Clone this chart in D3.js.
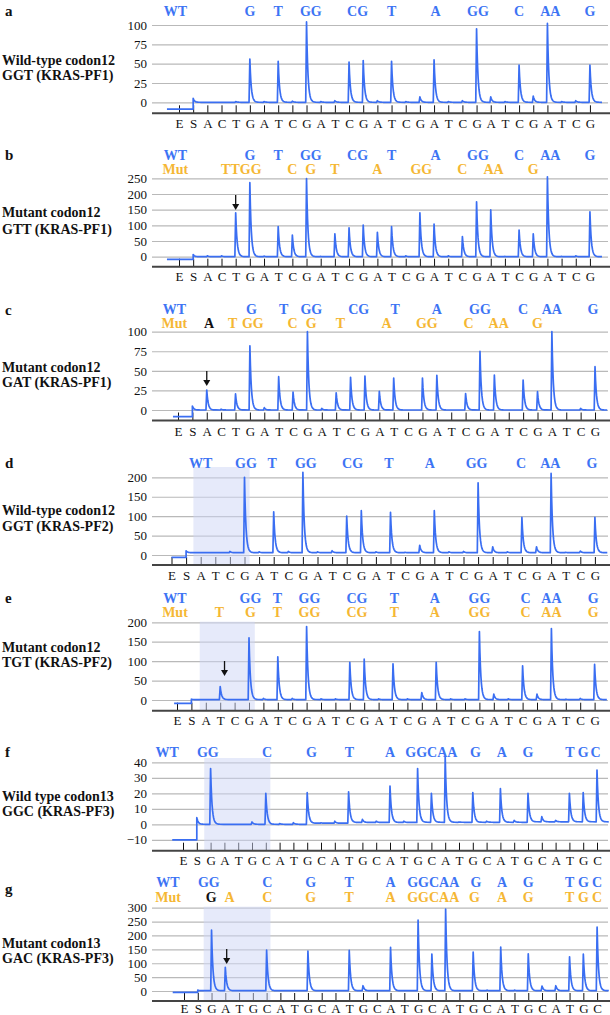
<!DOCTYPE html>
<html><head><meta charset="utf-8">
<script src="https://cdn.jsdelivr.net/npm/d3@7"></script>
<style>body{margin:0;background:#fff}svg{display:block}</style>
</head><body>
<svg id="chart" width="610" height="1015"></svg>
<script>
// ---------------- DATA ----------------
const seqPF1 = "ESACTGATCGATCGATCGATCGATCGATCG".split("");
const seqPF2 = "ESATCGATCGATCGATCGATCGATCGATCG".split("");
const seqPF3 = "ESGATGCATGCATGCATGCATGCATGCATGC".split("");

const ticksA = [0, 25, 50, 75, 100];
const ticksB = [0, 50, 100, 150, 200, 250];
const ticksC = [0, 25, 50, 75, 100];
const ticksD = [0, 50, 100, 150, 200];
const ticksE = [0, 50, 100, 150, 200];
const ticksF = [-10, 0, 10, 20, 30, 40];
const ticksG = [0, 50, 100, 150, 200, 250, 300];

// peak heights per dispensation (index 0 = pre-run level)
const valuesA = [-8.7, 5, 0, 0, 1, 56, 1, 53, 1.5, 104, 1, 2, 52, 54, 2, 53, 1, 7, 55, 1, 2, 95, 7, 1, 48, 8, 102, 1, 2, 48];
const valuesB = [-8.5, 7, 3, 3, 140, 236, 2, 96, 69, 249, 1, 73, 92, 101, 78, 96, 3, 140, 104, 3, 64, 175, 149, 1, 85, 73, 255, 1, 3, 143];
const valuesC = [-8.5, 5, 25.5, 1, 20.5, 82, 3, 42.5, 23, 100, 2, 22, 41.7, 43.4, 23.8, 40.8, 0, 40.8, 44.3, 0, 21, 75, 44.7, 0, 38.3, 23.4, 100, 0, 2, 55.3];
const valuesD = [-6, 11, 6, 6, 9, 200, 8, 111, 9, 213, 8, 11, 100, 114, 8, 110, 7, 25, 114, 8, 9, 186, 21, 8, 97, 21, 210, 7, 10, 97];
const valuesE = [-8.6, 2, 1, 34.3, 1, 160, 4, 111, 4, 189, 3, 3, 97, 105, 3, 93, 3, 19, 97, 3, 3, 176, 15, 3, 88, 15, 184, 2, 4, 92];
const valuesF = [-10, 4.3, 36, 0, 0, 1.5, 20, 0.5, 1, 20.4, 1, 2, 21, 3.2, 2, 24.7, 2, 36, 20, 43.7, 1.5, 20.5, 2, 23, 2.5, 20, 4.9, 2.5, 20, 20.5, 35];
const valuesG = [-4.8, 3, 219, 85, 1, 1, 147, 1, 1, 144, 1, 1, 146, 19, 1, 157, 1, 255, 133, 295, 1, 140, 3, 158, 3, 134, 18, 19, 123, 133, 230];

// baseline level after the S dispensation
const baseA = 0, baseB = 0, baseC = 0, baseD = 6, baseE = 1, baseG = 1;
const baseF = [0, 0, 0, 0, 0, 0, 0, 0, 0, 0.7, 0.7, 0.7, 1.2, 1.2, 1.2, 1.2, 1.2, 1.3, 1.3, 1.3, 1.3, 1.3, 1.3, 1.3, 1.3, 1.6, 1.6, 1.6, 1.6, 1.6, 1.6];

// top annotation rows: [text, dispensation position]
const wtA  = [["WT",-0.25],["G",5],["T",7],["GG",9.3],["CG",12.6],["T",15],["A",18.1],["GG",21.1],["C",24],["AA",26.2],["G",29]];
const wtB  = wtA;
const mutB = [["Mut",-0.25],["TTGG",4.4],["C",8],["G",9.3],["T",11],["A",14],["GG",17.1],["C",20],["AA",22.2],["G",25]];
const wtC  = [["WT",-0.25],["G",5.1],["T",7.35],["GG",9.27],["CG",12.57],["T",15.1],["A",18],["GG",21],["C",24],["AA",26],["G",28.85]];
const mutC = [["Mut",-0.25],["A",2.16,"k"],["T",3.8],["GG",5.2],["C",7.97],["G",9.27],["T",11.3],["A",14.5],["GG",17.3],["C",20.2],["AA",22.3],["G",25]];
const wtD  = [["WT",2],["GG",5.1],["T",6.9],["GG",9.2],["CG",12.4],["T",14.9],["A",17.7],["GG",20.9],["C",23.95],["AA",25.95],["G",28.8]];
const wtE  = [["WT",-0.14],["GG",5.1],["T",6.97],["GG",9.2],["CG",12.5],["T",15.1],["A",17.9],["GG",21],["C",24.2],["AA",26],["G",28.9]];
const mutE = [["Mut",-0.14],["T",2.95],["G",5.1],["T",6.97],["GG",9.2],["CG",12.5],["T",15.1],["A",17.9],["GG",21],["C",24.2],["AA",26],["G",28.9]];
const wtF  = [["WT",-1.14],["GG",1.8],["C",6.1],["G",9.3],["T",12.06],["A",15],["GGCAA",18],["G",21.2],["A",23.1],["G",25],["T",28.04],["G",29],["C",29.9]];
const wtG  = [["WT",-1.16],["GG",1.8],["C",6.05],["G",9.2],["T",12],["A",15],["GGCAA",18.1],["G",21.2],["A",23.1],["G",25],["T",28],["G",29],["C",30]];
const mutG = [["Mut",-1.16],["G",1.98,"k"],["A",3.3],["C",6.05],["G",9.2],["T",12],["A",15],["GGCAA",18.1],["G",21.1],["A",23.1],["G",25],["T",28],["G",29],["C",30]];

const namesA = ["Wild-type codon12", "GGT (KRAS-PF1)"];
const namesB = ["Mutant codon12", "GTT (KRAS-PF1)"];
const namesC = ["Mutant codon12", "GAT (KRAS-PF1)"];
const namesD = ["Wild-type codon12", "GGT (KRAS-PF2)"];
const namesE = ["Mutant codon12", "TGT (KRAS-PF2)"];
const namesF = ["Wild type codon13", "GGC (KRAS-PF3)"];
const namesG = ["Mutant codon13", "GAC (KRAS-PF3)"];

// ---------------- LAYOUT ----------------
const panels = [
  {id:"a", seq:seqPF1, vals:valuesA, base:baseA, ticks:ticksA, wt:wtA, mut:null, names:namesA,
   start:-0.85, shade:null, arrow:null,
   L:{y0:102.3, yT:25, axis:113.3, let:124, xE:179, step:14.17, wtY:11, mutY:0, lab:[60,75], pY:11}},
  {id:"b", seq:seqPF1, vals:valuesB, base:baseB, ticks:ticksB, wt:wtB, mut:mutB, names:namesB,
   start:-0.85, shade:null, arrow:{i:4, tip:210},
   L:{y0:256.7, yT:178.3, axis:266.7, let:277, xE:179, step:14.17, wtY:155, mutY:169.5, lab:[212,229], pY:155}},
  {id:"c", seq:seqPF1, vals:valuesC, base:baseC, ticks:ticksC, wt:wtC, mut:mutC, names:namesC,
   start:-0.35, shade:null, arrow:{i:2, tip:386},
   L:{y0:410, yT:331.7, axis:420.5, let:432, xE:178, step:14.38, wtY:309.5, mutY:323.5, lab:[367,382], pY:310}},
  {id:"d", seq:seqPF2, vals:valuesD, base:baseD, ticks:ticksD, wt:wtD, mut:null, names:namesD,
   start:0, shade:[1.5, 5.35, 467], arrow:null,
   L:{y0:555, yT:477.3, axis:565, let:576, xE:171.5, step:14.6, wtY:462.7, mutY:0, lab:[510,526], pY:462.7}},
  {id:"e", seq:seqPF2, vals:valuesE, base:baseE, ticks:ticksE, wt:wtE, mut:mutE, names:namesE,
   start:-0.2, shade:[1.58, 5.4, 621.7], arrow:{i:3.3, tip:676},
   L:{y0:700, yT:622.3, axis:710.7, let:721, xE:177, step:14.4, wtY:598.3, mutY:612.3, lab:[647,662], pY:598}},
  {id:"f", seq:seqPF3, vals:valuesF, base:baseF, ticks:ticksF, wt:wtF, mut:null, names:namesF,
   start:-0.78, shade:[1.54, 6.33, 758], arrow:null,
   L:{y0:824.3, yT:762.3, axis:850.7, let:861, xE:183, step:13.8, wtY:751.7, mutY:0, lab:[796,811], pY:751.7}},
  {id:"g", seq:seqPF3, vals:valuesG, base:baseG, ticks:ticksG, wt:wtG, mut:mutG, names:namesG,
   start:-0.82, shade:[1.43, 6.28, 906.7], arrow:{i:3.1, tip:964},
   L:{y0:991, yT:907.7, axis:1001, let:1008.3, xE:184, step:13.77, wtY:882, mutY:897, lab:[943.5,958.5], pY:888.5}}
];

// ---------------- DRAW ----------------
const SERIF = "'Liberation Serif','Times New Roman',Times,serif";
const BLUE = "#3a6ef2", LBLUE = "#3d74f4", ORANGE = "#f5b734";
const svg = d3.select("#chart");
const GX0 = 152, GX1 = 608;

panels.forEach(p => {
  const L = p.L, n = p.seq.length;
  const g = svg.append("g");
  const x = d3.scaleLinear().domain([0, n - 1]).range([L.xE, L.xE + L.step * (n - 1)]);
  const topTick = p.ticks[p.ticks.length - 1];
  const y = d3.scaleLinear().domain([0, topTick]).range([L.y0, L.yT]);

  // gridlines + y labels
  g.append("g").attr("transform", `translate(${GX0},0)`)
    .call(d3.axisLeft(y).tickValues(p.ticks).tickSize(-(GX1 - GX0)).tickPadding(5))
    .call(s => {
      s.attr("font-family", SERIF).attr("font-size", 13);
      s.select(".domain").remove();
      s.selectAll("line").attr("stroke", "#b9b9b9").attr("stroke-width", 1.2);
      s.selectAll("text").attr("fill", "#111");
    });

  // x axis ticks and letters
  g.append("g").attr("transform", `translate(0,${L.axis})`)
    .call(d3.axisBottom(x).tickValues(d3.range(n)).tickFormat(i => p.seq[i])
      .tickSizeInner(-8).tickSizeOuter(0).tickPadding(L.let - L.axis - 4.9))
    .call(s => {
      s.attr("font-family", SERIF).attr("font-size", 13);
      s.select(".domain").remove();
      s.selectAll("line").attr("stroke", "#111").attr("stroke-width", 1);
      s.selectAll("text").attr("fill", "#111");
    });

  // shaded region
  if (p.shade) {
    g.append("rect")
      .attr("x", x(p.shade[0])).attr("width", x(p.shade[1]) - x(p.shade[0]))
      .attr("y", p.shade[2]).attr("height", L.axis - p.shade[2])
      .attr("fill", "rgb(205,214,246)").attr("opacity", 0.5);
  }

  // axis line
  g.append("line").attr("x1", GX0).attr("x2", 610).attr("y1", L.axis).attr("y2", L.axis)
    .attr("stroke", "#444").attr("stroke-width", 2);

  // trace
  const baseAt = i => Array.isArray(p.base) ? p.base[i] : p.base;
  const low = p.vals[0];
  const tau = 1.4;
  const pts = [[x(p.start), y(low)], [x(1), y(low)]];
  let level = low;
  for (let i = 1; i < n; i++) {
    const xi = x(i), v = p.vals[i], b = baseAt(i);
    if (i > 1) pts.push([xi - 0.8, y(level)]);
    pts.push([xi, y(v)]);
    for (let t = 0.5; t <= 9; t += 0.5) pts.push([xi + t, y(b + (v - b) * Math.exp(-t / tau))]);
    level = b;
  }
  pts.push([Math.min(x(n - 1 + 0.85), 609), y(level)]);
  g.append("path").attr("d", d3.line()(pts)).attr("fill", "none")
    .attr("stroke", BLUE).attr("stroke-width", 1.7).attr("stroke-linejoin", "round");

  // top annotation rows
  const row = (arr, yy, col) => {
    g.append("g").selectAll("text").data(arr).join("text")
      .attr("x", d => x(d[1])).attr("y", yy).attr("dy", "0.35em")
      .attr("text-anchor", "middle").attr("font-family", SERIF).attr("font-weight", "bold")
      .attr("font-size", 14).attr("fill", d => d[2] === "k" ? "#111" : col)
      .text(d => d[0]);
  };
  row(p.wt, L.wtY, LBLUE);
  if (p.mut) row(p.mut, L.mutY, ORANGE);

  // left sample label
  g.append("g").selectAll("text").data(p.names).join("text")
    .attr("x", 2).attr("y", (d, i) => L.lab[i]).attr("dy", "0.35em")
    .attr("font-family", SERIF).attr("font-weight", "bold").attr("font-size", 14).attr("fill", "#111")
    .text(d => d);

  // panel letter
  g.append("text").attr("x", 5).attr("y", L.pY).attr("dy", "0.35em")
    .attr("font-family", SERIF).attr("font-weight", "bold").attr("font-size", 15).attr("fill", "#111")
    .text(p.id);

  // arrow
  if (p.arrow) {
    const ax = x(p.arrow.i), tip = p.arrow.tip;
    g.append("line").attr("x1", ax).attr("x2", ax).attr("y1", tip - 15).attr("y2", tip - 5)
      .attr("stroke", "#111").attr("stroke-width", 1.3);
    g.append("path").attr("d", `M${ax - 3.5},${tip - 6}L${ax + 3.5},${tip - 6}L${ax},${tip}Z`).attr("fill", "#111");
  }
});
</script>
</body></html>
